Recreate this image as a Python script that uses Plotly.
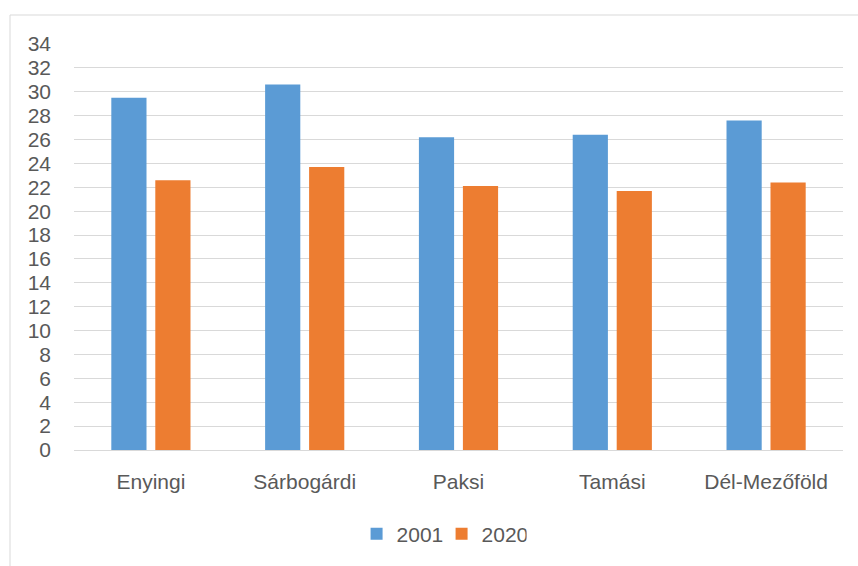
import plotly.graph_objects as go

categories = ["Enyingi", "Sárbogárdi", "Paksi", "Tamási", "Dél-Mezőföld"]
values_2001 = [29.5, 30.6, 26.2, 26.4, 27.6]
values_2020 = [22.6, 23.7, 22.1, 21.7, 22.4]
series_names = ["2001", "2020"]
y_ticks = list(range(0, 35, 2))

W, H = 858, 566
L, R, T, B = 74, 15, 44, 116
pw = W - L - R
ph = H - T - B

fig = go.Figure()
fig.add_trace(go.Bar(x=categories, y=values_2001, name=series_names[0],
                     marker=dict(color="#5b9bd5", line=dict(width=0))))
fig.add_trace(go.Bar(x=categories, y=values_2020, name=series_names[1],
                     marker=dict(color="#ed7d31", line=dict(width=0))))

font_family = "Liberation Sans, Arial, sans-serif"

fig.update_layout(
    width=W, height=H,
    margin=dict(l=L, r=R, t=T, b=B, pad=0),
    paper_bgcolor="white", plot_bgcolor="white",
    barmode="group", bargap=0.428, bargroupgap=0.2,
    font=dict(family=font_family, size=21, color="#595959"),
    showlegend=True,
    legend=dict(orientation="h", x=0.478, xanchor="center", y=(450 - 534) / ph,
                yanchor="middle", font=dict(size=21, color="#595959"),
                entrywidth=40, entrywidthmode="pixels", traceorder="normal"),
    xaxis=dict(showgrid=False, showline=False, ticks="", tickfont=dict(size=21),
               ticklabelstandoff=17),
    yaxis=dict(range=[0, 34], tickvals=y_ticks, showgrid=True, gridcolor="#d9d9d9",
               gridwidth=1.3, zeroline=True, zerolinecolor="#d9d9d9", zerolinewidth=1.3,
               showline=False, ticks="", tickfont=dict(size=21), ticklabelstandoff=22),
    shapes=[dict(type="rect", xref="paper", yref="paper",
                 x0=(10 - L) / pw, x1=(W + 5 - L) / pw,
                 y0=-(H + 5 - T - ph) / ph, y1=(450 - 15) / ph,
                 line=dict(color="#d9d9d9", width=1), fillcolor="rgba(0,0,0,0)",
                 layer="below")],
)

fig.write_html("out.html", config={"displayModeBar": False},
               post_script="document.body.style.margin='0';document.body.style.overflow='hidden';")
